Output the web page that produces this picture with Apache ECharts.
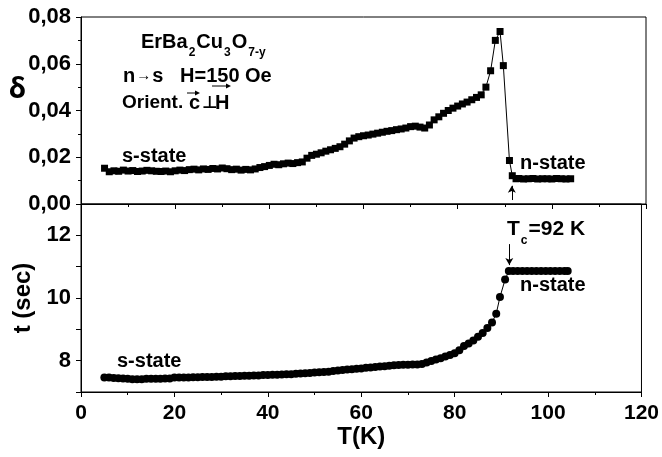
<!DOCTYPE html>
<html>
<head>
<meta charset="utf-8">
<script src="https://cdn.jsdelivr.net/npm/echarts@6.0.0/dist/echarts.min.js"></script>
<style>
  html, body { margin: 0; padding: 0; background: #fff; }
  #chart { width: 662px; height: 457px; }
</style>
</head>
<body>
<div id="chart"></div>
<script>
// top panel: delta vs T (squares)
const tempTop = [
  5, 6, 7, 8, 9, 10, 11, 12, 13, 14, 15, 16, 17, 18, 19, 20, 21, 22, 23, 24,
  25, 26, 27, 28, 29, 30, 31, 32, 33, 34, 35, 36, 37, 38, 39, 40, 41, 42, 43, 44,
  45, 46, 47, 48, 49, 50, 51, 52, 53, 54, 55, 56, 57, 58, 59, 60, 61, 62, 63, 64,
  65, 66, 67, 68, 69, 70, 71, 72, 73, 74, 75, 76, 77, 78, 79, 80, 81, 82, 83, 84,
  85, 86, 87, 88, 89, 89.7, 91, 91.6, 92.4, 93, 94, 95, 96, 97, 98, 99, 100, 101,
  102, 103, 104
];
const deltaVals = [
  0.0153, 0.0138, 0.0142, 0.0140, 0.0145, 0.0141, 0.0143, 0.0139, 0.0141, 0.0144,
  0.0142, 0.0140, 0.0139, 0.0141, 0.0138, 0.0142, 0.0145, 0.0143, 0.0147, 0.0149,
  0.0146, 0.0150, 0.0148, 0.0152, 0.0150, 0.0154, 0.0151, 0.0147, 0.0149, 0.0145,
  0.0148, 0.0146, 0.0150, 0.0156, 0.0160, 0.0165, 0.0170, 0.0168, 0.0172, 0.0175,
  0.0173, 0.0177, 0.0180, 0.0196, 0.0208, 0.0213, 0.0219, 0.0226, 0.0232, 0.0238,
  0.0245, 0.0256, 0.0270, 0.0282, 0.0288, 0.0292, 0.0295, 0.0299, 0.0303, 0.0307,
  0.0311, 0.0314, 0.0318, 0.0321, 0.0325, 0.0331, 0.0333, 0.0329, 0.0325, 0.0338,
  0.0360, 0.0373, 0.0388, 0.0400, 0.0410, 0.0419, 0.0428, 0.0436, 0.0446, 0.0456,
  0.0467, 0.0500, 0.0570, 0.0700, 0.0738, 0.0592, 0.0186, 0.0121, 0.0108, 0.0109,
  0.0107, 0.0108, 0.0109, 0.0107, 0.0108, 0.0108, 0.0107, 0.0109, 0.0108, 0.0107,
  0.0108
];

// bottom panel: t (sec) vs T (circles)
const tempBot = [
  5, 6, 7, 8, 9, 10, 11, 12, 13, 14, 15, 16, 17, 18, 19, 20, 21, 22, 23, 24,
  25, 26, 27, 28, 29, 30, 31, 32, 33, 34, 35, 36, 37, 38, 39, 40, 41, 42, 43, 44,
  45, 46, 47, 48, 49, 50, 51, 52, 53, 54, 55, 56, 57, 58, 59, 60, 61, 62, 63, 64,
  65, 66, 67, 68, 69, 70, 71, 72, 73, 74, 75, 76, 77, 78, 79, 80, 81, 82, 83, 84,
  85, 86, 87, 88, 88.9, 89.7, 90.8, 91.6, 92.5, 93.5, 94.5, 95.5, 96.5, 97.5, 98.5,
  99.5, 100.5, 101.5, 102.5, 103.5, 104.2
];
const tauVals = [
  7.46, 7.46, 7.45, 7.44, 7.43, 7.42, 7.41, 7.41, 7.41, 7.42, 7.42, 7.42, 7.42, 7.43,
  7.43, 7.46, 7.46, 7.46, 7.46, 7.47, 7.47, 7.48, 7.48, 7.48, 7.49, 7.49, 7.50, 7.50,
  7.51, 7.51, 7.52, 7.52, 7.53, 7.53, 7.54, 7.54, 7.55, 7.55, 7.56, 7.57, 7.57, 7.58,
  7.59, 7.60, 7.61, 7.62, 7.63, 7.64, 7.65, 7.67, 7.69, 7.70, 7.72, 7.73, 7.74, 7.75,
  7.77, 7.78, 7.80, 7.81, 7.82, 7.84, 7.85, 7.86, 7.87, 7.87, 7.88, 7.88, 7.89, 7.94,
  7.99, 8.04, 8.08, 8.13, 8.18, 8.24, 8.33, 8.47, 8.55, 8.64, 8.76, 8.88, 9.04, 9.22,
  9.50, 10.03, 10.59, 10.86, 10.86, 10.86, 10.86, 10.86, 10.86, 10.86, 10.86, 10.86,
  10.86, 10.86, 10.86, 10.86, 10.86
];

const FONT = '"Liberation Sans", Arial, "DejaVu Sans", sans-serif';
const black = '#000';

const chart = echarts.init(document.getElementById('chart'), null, { renderer: 'canvas' });

function axisX(gridIndex, withLabels) {
  return {
    gridIndex, type: 'value', min: 0, max: 120, interval: 20,
    axisLine: { show: true, lineStyle: { color: black, width: 1 } },
    axisTick: { show: true, inside: false, length: 5, lineStyle: { color: black } },
    minorTick: { show: true, splitNumber: 2, length: 3, lineStyle: { color: black } },
    axisLabel: { show: withLabels, margin: 11, color: black, fontFamily: FONT, fontWeight: 'bold', fontSize: 21 },
    splitLine: { show: false },
    name: withLabels ? 'T(K)' : '',
    nameLocation: 'middle', nameGap: 26,
    nameTextStyle: { color: black, fontFamily: FONT, fontWeight: 'bold', fontSize: 24 }
  };
}

function txt(x, y, text, size, extra) {
  return {
    type: 'text', x, y, silent: true,
    style: Object.assign({
      text, fill: black, fontFamily: FONT, fontWeight: 'bold', fontSize: size,
      align: 'left', verticalAlign: 'middle'
    }, extra || {})
  };
}

function vecArrow(x1, x2, y) {
  return [
    { type: 'line', silent: true, shape: { x1, y1: y, x2: x2 - 3, y2: y }, style: { stroke: black, lineWidth: 1 } },
    { type: 'polygon', silent: true, shape: { points: [[x2, y], [x2 - 5, y - 2.5], [x2 - 5, y + 2.5]] }, style: { fill: black } }
  ];
}

function subRich(main) {
  return {
    m: { fontFamily: FONT, fontWeight: 'bold', fontSize: main, lineHeight: main + 1, fill: black },
    s: { fontFamily: FONT, fontWeight: 'bold', fontSize: 12, lineHeight: 12, padding: [main + 2, 1, 0, 1], fill: black },
    a: { fontFamily: FONT, fontWeight: 'bold', fontSize: 15, lineHeight: main + 1, padding: [0, 1, 0, 1], fill: black }
  };
}

const option = {
  animation: false,
  backgroundColor: '#fff',
  grid: [
    { left: 81, right: 16, top: 17, height: 187, show: true, borderColor: black, borderWidth: 1 },
    { left: 81, right: 16, top: 204, height: 188, show: true, borderColor: black, borderWidth: 1 }
  ],
  xAxis: [axisX(0, false), axisX(1, true)],
  yAxis: [
    {
      gridIndex: 0, type: 'value', min: 0, max: 0.08, interval: 0.02,
      axisLine: { show: true, lineStyle: { color: black } },
      axisTick: { show: true, length: 5, lineStyle: { color: black } },
      minorTick: { show: true, splitNumber: 2, length: 3, lineStyle: { color: black } },
      axisLabel: {
        margin: 10, color: black, fontFamily: FONT, fontWeight: 'bold', fontSize: 22,
        formatter: v => v.toFixed(2).replace('.', ',')
      },
      splitLine: { show: false }
    },
    {
      gridIndex: 1, type: 'value', min: 7, max: 13, interval: 1,
      axisLine: { show: true, lineStyle: { color: black } },
      axisTick: { show: true, length: 5, lineStyle: { color: black } },
      axisLabel: {
        margin: 10, color: black, fontFamily: FONT, fontWeight: 'bold', fontSize: 22,
        formatter: v => (v % 2 === 0 ? String(v) : '')
      },
      splitLine: { show: false },
      name: 't (sec)', nameLocation: 'middle', nameGap: 44, nameRotate: 90,
      nameTextStyle: { color: black, fontFamily: FONT, fontWeight: 'bold', fontSize: 24 }
    }
  ],
  series: [
    {
      type: 'line', xAxisIndex: 0, yAxisIndex: 0,
      data: tempTop.map((t, i) => [t, deltaVals[i]]),
      symbol: 'rect', symbolSize: 7, showSymbol: true,
      itemStyle: { color: black },
      lineStyle: { color: black, width: 1 },
      markLine: {
        silent: true, symbol: ['none', 'arrow'], symbolSize: [6, 7],
        label: { show: false },
        lineStyle: { color: black, width: 1, type: 'solid' },
        data: [[{ coord: [91.5, 0.0017] }, { coord: [91.5, 0.0078] }]]
      }
    },
    {
      type: 'line', xAxisIndex: 1, yAxisIndex: 1,
      data: tempBot.map((t, i) => [t, tauVals[i]]),
      symbol: 'circle', symbolSize: 8, showSymbol: true,
      itemStyle: { color: black },
      lineStyle: { color: black, width: 1 },
      markLine: {
        silent: true, symbol: ['none', 'arrow'], symbolSize: [6, 7],
        label: { show: false },
        lineStyle: { color: black, width: 1, type: 'solid' },
        data: [[{ coord: [91.7, 11.72] }, { coord: [91.7, 11.05] }]]
      }
    }
  ],
  graphic: [
    txt(9, 90, 'δ', 28, { fontFamily: '"Noto Sans", "DejaVu Sans", sans-serif' }),
    txt(141, 42, '{m|ErBa}{s|2}{m|Cu}{s|3}{m|O}{s|7-y}', 20, { rich: subRich(20) }),
    txt(123, 76, '{m|n}{a|→}{m|s   H=150 Oe}', 20, { rich: subRich(20) }),
    txt(122, 103, 'Orient.', 19),
    txt(189, 103, 'c', 20),
    txt(202, 103, '⊥', 17),
    txt(215, 103, 'H', 20),
    ...vecArrow(187, 200, 93),
    ...vecArrow(212, 231, 86),
    txt(122, 156, 's-state', 20),
    txt(520, 163, 's-state'.replace('s-', 'n-'), 20),
    txt(507, 229, '{m|T}{s|c}{m|=92 K}', 21, { rich: subRich(21) }),
    txt(520, 285, 'n-state', 20),
    txt(117, 361, 's-state', 20)
  ]
};

chart.setOption(option);
</script>
</body>
</html>
